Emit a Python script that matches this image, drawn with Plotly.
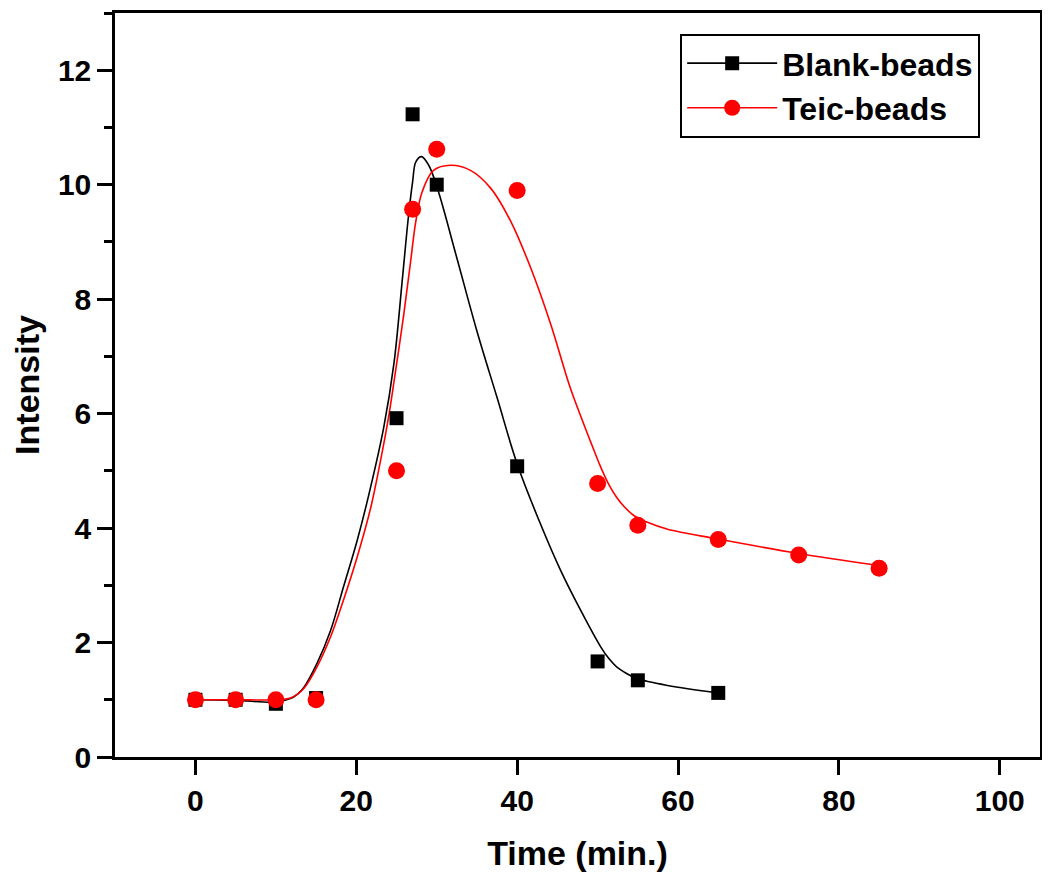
import plotly.graph_objects as go

# Measured data points
time_blank = [0, 5, 10, 15, 25, 27, 30, 40, 50, 55, 65]
int_blank = [1.0, 1.0, 0.93, 1.03, 5.92, 11.23, 10.0, 5.08, 1.67, 1.34, 1.12]

time_teic = [0, 5, 10, 15, 25, 27, 30, 40, 50, 55, 65, 75, 85]
int_teic = [1.0, 1.0, 1.0, 1.0, 5.0, 9.57, 10.62, 9.9, 4.78, 4.05, 3.8, 3.53, 3.3]

# Smooth fitted curves
fit_x_blank = [0, 5, 10, 11.8, 12.7, 13.5, 15.1, 16.8, 18.4, 20.1, 21.5, 23.4, 24.7, 25.7,
               26.5, 27.0, 27.4, 28.1, 29.0, 30.1, 32.5, 35, 37.5, 40, 42.9, 45.4,
               47.9, 50.4, 51.4, 52.4, 53.6, 54.9, 58.7, 65]
fit_y_blank = [1.0, 0.99, 0.96, 1.02, 1.1, 1.22, 1.63, 2.21, 2.97, 3.78, 4.55, 5.75, 6.9, 8.31,
               9.47, 10.05, 10.40, 10.49, 10.34, 9.93, 8.72, 7.44, 6.28, 5.12, 4.07, 3.26,
               2.56, 1.92, 1.72, 1.57, 1.46, 1.37, 1.25, 1.12]

fit_x_teic = [0, 5, 10, 11.8, 12.7, 13.5, 15.1, 16.8, 18.4, 20.1, 21.8, 23.0, 24.0, 24.7, 25.9,
              26.7, 27.4, 28.2, 29.6, 31.7, 34.2, 36.7, 39.2, 41.7, 44.2, 46.6, 49.1,
              50.4, 51.4, 52.4, 53.4, 54.5, 56.2, 58.7, 64.9, 74.8, 84.8]
fit_y_teic = [1.0, 1.0, 1.0, 1.03, 1.1, 1.2, 1.57, 2.10, 2.74, 3.49, 4.36, 5.17, 5.93, 6.57, 7.73,
              8.60, 9.36, 9.88, 10.25, 10.34, 10.25, 9.94, 9.36, 8.54, 7.55, 6.45, 5.52,
              5.06, 4.76, 4.53, 4.36, 4.22, 4.10, 3.98, 3.81, 3.56, 3.35]

series_names = ["Blank-beads", "Teic-beads"]
x_ticks = [0, 20, 40, 60, 80, 100]
y_ticks = [0, 2, 4, 6, 8, 10, 12]

FONT = "Liberation Sans, Arial, sans-serif"
RED = "#ff0000"
BLACK = "#000000"

fig = go.Figure()

fig.add_trace(go.Scatter(x=fit_x_blank, y=fit_y_blank, mode="lines",
                         line=dict(color=BLACK, width=1.6, shape="spline", smoothing=1.0),
                         showlegend=False, hoverinfo="skip"))
fig.add_trace(go.Scatter(x=fit_x_teic, y=fit_y_teic, mode="lines",
                         line=dict(color=RED, width=1.6, shape="spline", smoothing=1.0),
                         showlegend=False, hoverinfo="skip"))
fig.add_trace(go.Scatter(x=time_blank, y=int_blank, mode="markers",
                         marker=dict(symbol="square", size=14, color=BLACK, line=dict(width=0)),
                         showlegend=False))
fig.add_trace(go.Scatter(x=time_teic, y=int_teic, mode="markers",
                         marker=dict(symbol="circle", size=17, color=RED, line=dict(width=0)),
                         showlegend=False))

# legend entries
fig.add_trace(go.Scatter(x=[None], y=[None], mode="lines+markers", name=series_names[0],
                         line=dict(color=BLACK, width=1.6),
                         marker=dict(symbol="square", size=14, color=BLACK)))
fig.add_trace(go.Scatter(x=[None], y=[None], mode="lines+markers", name=series_names[1],
                         line=dict(color=RED, width=1.6),
                         marker=dict(symbol="circle", size=17, color=RED)))

fig.update_layout(
    width=1050, height=878,
    margin=dict(l=107, r=18, t=2, b=129),
    paper_bgcolor="white", plot_bgcolor="white",
    font=dict(family=FONT, color="black"),
    showlegend=True,
    legend=dict(x=0.611, y=0.972, xanchor="left", yanchor="top",
                bordercolor="black", borderwidth=2, bgcolor="white",
                font=dict(family=FONT, size=32, weight="bold", color="black"),
                itemwidth=90, tracegroupgap=0),
    xaxis=dict(range=[-10, 105], tickmode="array", tickvals=x_ticks,
               ticktext=[str(v) for v in x_ticks],
               ticks="outside", ticklen=15, tickwidth=2.5, tickcolor="black",
               showline=True, linewidth=2.5, linecolor="black", mirror=True,
               showgrid=False, zeroline=False,
               tickfont=dict(family=FONT, size=30, weight="bold"),
               title=dict(text="Time (min.)", standoff=26,
                          font=dict(family=FONT, size=34, weight="bold"))),
    yaxis=dict(range=[0, 13], tickmode="array", tickvals=y_ticks,
               ticktext=[str(v) for v in y_ticks],
               ticks="outside", ticklen=15, tickwidth=2.5, tickcolor="black",
               minor=dict(dtick=1, tick0=0, ticks="outside", ticklen=8, tickwidth=2.5,
                          tickcolor="black", showgrid=False),
               showline=True, linewidth=2.5, linecolor="black", mirror=True,
               showgrid=False, zeroline=False,
               tickfont=dict(family=FONT, size=30, weight="bold"),
               title=dict(text="Intensity", standoff=12,
                          font=dict(family=FONT, size=34, weight="bold"))),
)

fig.write_html("out.html")
